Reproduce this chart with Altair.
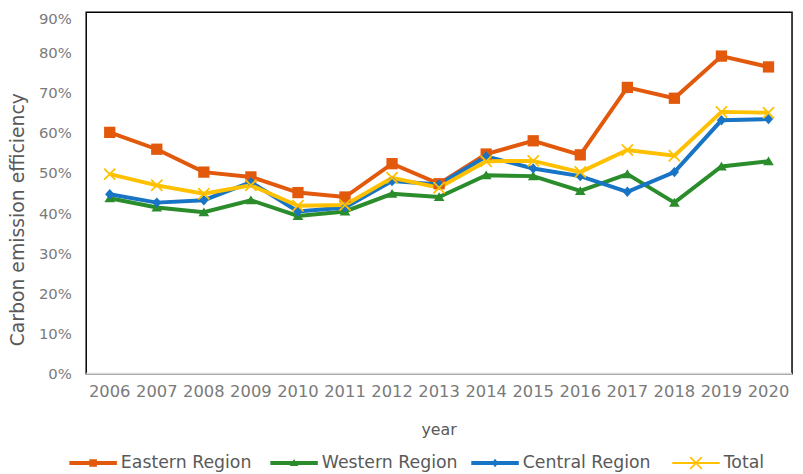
import altair as alt
import pandas as pd

years = [str(y) for y in range(2006, 2021)]
regions = ["Eastern Region", "Western Region", "Central Region", "Total"]

eastern = [0.601, 0.559, 0.502, 0.490, 0.451, 0.440, 0.523, 0.473, 0.547, 0.580, 0.545, 0.713, 0.686, 0.791, 0.764]
western = [0.437, 0.414, 0.402, 0.432, 0.393, 0.404, 0.448, 0.440, 0.494, 0.492, 0.455, 0.497, 0.426, 0.516, 0.529]
central = [0.447, 0.426, 0.432, 0.477, 0.404, 0.414, 0.480, 0.471, 0.541, 0.511, 0.492, 0.453, 0.502, 0.631, 0.634]
total = [0.497, 0.469, 0.448, 0.469, 0.418, 0.420, 0.488, 0.463, 0.529, 0.530, 0.502, 0.557, 0.543, 0.652, 0.650]

y_ticks = [0, 0.1, 0.2, 0.3, 0.4, 0.5, 0.6, 0.7, 0.8, 0.9]

colors = ["#E2590C", "#2B8C2B", "#1874C4", "#FFC000"]
line_widths = [4, 4, 4, 2.5]

# plot markers (unit paths)
marker_paths = [
    "M-0.95,-0.95L0.95,-0.95L0.95,0.95L-0.95,0.95Z",
    "M-0.9,0.68L0,-0.8L0.9,0.68Z",
    "M0,-0.88L0.78,0L0,0.88L-0.78,0Z",
    "M-1.05,-0.84L-0.84,-1.05L1.05,0.84L0.84,1.05Z M-1.05,0.84L0.84,-1.05L1.05,-0.84L-0.84,1.05Z",
]
# legend symbols: line stub + marker
legend_paths = [
    "M-1,-0.08L1,-0.08L1,0.08L-1,0.08Z M-0.16,-0.16L0.16,-0.16L0.16,0.16L-0.16,0.16Z",
    "M-1,-0.08L1,-0.08L1,0.08L-1,0.08Z M-0.18,0.13L0,-0.17L0.18,0.13Z",
    "M-1,-0.08L1,-0.08L1,0.08L-1,0.08Z M0,-0.18L0.14,0L0,0.18L-0.14,0Z",
    "M-1,-0.045L1,-0.045L1,0.045L-1,0.045Z M-0.27,-0.22L-0.22,-0.27L0.27,0.22L0.22,0.27Z M-0.27,0.22L0.22,-0.27L0.27,-0.22L-0.22,0.27Z",
]

series = [eastern, western, central, total]
rows = []
for r, vals in zip(regions, series):
    for y, v in zip(years, vals):
        rows.append({"year": y, "region": r, "value": v})
df = pd.DataFrame(rows)

FONT = "DejaVu Sans"

x_enc = alt.X(
    "year:O",
    sort=years,
    scale=alt.Scale(type="point", padding=0.5),
    axis=alt.Axis(
        labelAngle=0,
        labelFont=FONT,
        labelFontSize=16.5,
        labelColor="#7a7a7a",
        labelPadding=11,
        ticks=False,
        domainColor="#d9d9d9",
        domainWidth=1.6,
        translate=0,
        grid=False,
        title="year",
        titleFont=FONT,
        titleFontSize=16,
        titleFontWeight="normal",
        titleColor="#595959",
        titleY=57,
        titleBaseline="middle",
    ),
)
y_enc = alt.Y(
    "value:Q",
    scale=alt.Scale(domain=[0, 0.9]),
    axis=alt.Axis(
        format=".0%",
        values=y_ticks,
        grid=False,
        ticks=False,
        domain=False,
        labelFont=FONT,
        labelFontSize=15,
        labelColor="#7a7a7a",
        labelPadding=15,
        labelOffset={"condition": {"test": "datum.value >= 0.89", "value": 6}, "value": 0},
        title="Carbon emission efficiency",
        titleFont=FONT,
        titleFontSize=19,
        titleFontWeight="normal",
        titleColor="#595959",
        titleX=-69,
        titleY=209,
        titleBaseline="middle",
    ),
)

color_scale = alt.Scale(domain=regions, range=colors)

lines = alt.Chart(df).mark_line().encode(
    x=x_enc,
    y=y_enc,
    color=alt.Color("region:N", scale=color_scale, legend=None),
    strokeWidth=alt.StrokeWidth("region:N", scale=alt.Scale(domain=regions, range=line_widths), legend=None),
)

points = alt.Chart(df).mark_point(filled=True, size=144, opacity=1).encode(
    x=x_enc,
    y=y_enc,
    color=alt.Color("region:N", scale=color_scale, legend=None),
    shape=alt.Shape("region:N", scale=alt.Scale(domain=regions, range=marker_paths), legend=None),
)

legend_props = dict(
    title=None,
    orient="none",
    legendX=-17,
    legendY=431,
    direction="horizontal",
    symbolSize=2304,
    symbolStrokeWidth=0,
    symbolOpacity=1,
    labelOffset=4,
    columnPadding=13,
    gridAlign="all",
    labelFont=FONT,
    labelFontSize=17.5,
    labelColor="#595959",
    padding=0,
)

legend_layer = alt.Chart(df).mark_point(filled=True, size=2304, opacity=0).encode(
    x=x_enc,
    y=y_enc,
    color=alt.Color("region:N", scale=color_scale, legend=alt.Legend(**legend_props)),
    shape=alt.Shape(
        "region:N",
        scale=alt.Scale(domain=regions, range=legend_paths),
        legend=alt.Legend(**legend_props),
    ),
)

chart = (
    alt.layer(lines, points, legend_layer)
    .resolve_scale(color="independent", shape="independent")
    .properties(
        width=713,
        height=365,
        autosize=alt.AutoSizeParams(type="none"),
        padding={"left": 79, "top": 2, "right": 3, "bottom": 99},
        background="white",
    )
    .configure_view(stroke="#000000", strokeWidth=1.5)
)

chart.save("out.html", embed_options={"renderer": "svg", "actions": False})
